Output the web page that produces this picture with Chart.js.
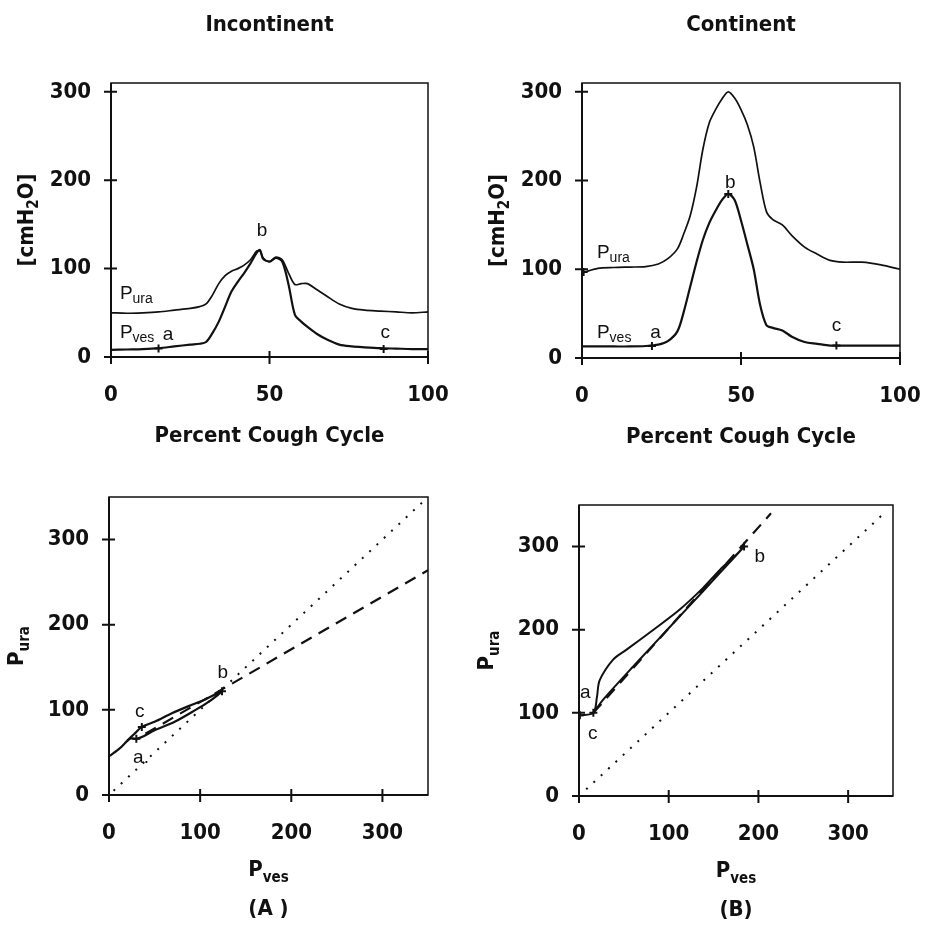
<!DOCTYPE html>
<html>
<head>
<meta charset="utf-8">
<script src="https://cdn.jsdelivr.net/npm/chart.js@4.4.1/dist/chart.umd.min.js"></script>
<style>
  html, body { margin: 0; padding: 0; background: #fff; }
  #wrap { position: relative; width: 925px; height: 929px; overflow: hidden; }
  canvas { position: absolute; }
</style>
</head>
<body>
<div id="wrap">
  <canvas id="cInc" width="462" height="460" style="left:0;top:0"></canvas>
  <canvas id="cCon" width="463" height="460" style="left:462px;top:0"></canvas>
  <canvas id="cLoopA" width="462" height="469" style="left:0;top:460px"></canvas>
  <canvas id="cLoopB" width="463" height="469" style="left:462px;top:460px"></canvas>
</div>
<script>
// --- data ---
// Incontinent: percent cough cycle vs pressure (cmH2O)
const incT    = [0,5,10,15,20,25,28,30,32,34,36,38,40,42,44,46,47,48,50,52,54,56,58,60,62,65,68,72,76,80,85,90,95,100];
const incPura = [50,49.5,50,51,53,55,57,60,70,83,92,97,100,104,110,120,120,112,108,113,110,95,82,83,83,76,69,60,55,53,52,51,50,51];
const incPves = [8,8.5,9,10,12,14,15,17,27,40,57,74,85,95,106,118,121,111,108,112,108,82,48,40,34,26,20,14,12,11,10,9.5,9,9];
const incMarkT = [15, 86];
const incMarkP = [9.5, 9];

// Continent
const conT    = [0,5,10,15,20,24,27,30,32,34,36,38,40,42,44,46,48,50,52,54,56,58,60,63,66,70,74,78,82,88,94,100];
const conPura = [96,101,102,102.5,103,106,112,123,140,160,192,235,265,280,292,300,293,280,263,238,198,165,156,150,138,125,117,110,108,108,105,100];
const conPves = [13,13,13,13,13.5,15,19,30,52,80,108,133,152,166,178,185,178,155,128,100,60,37,34,31,24,18,16,14,14,14,14,14];
const conMarkT = [22, 80, 46, 0.5];
const conMarkP = [13.5, 14, 185, 97];

// Pura vs Pves loops
const loopAves = [1,12,23,30,36,50,72,95,110,124,105,91,69,50,36,28,20];
const loopAura = [46,55,66,66,68,76,86,100,110,122,112,106,96,86,80,72,64];
const markAves = [30, 36, 124];
const markAura = [66, 80, 122];
const fitAves  = [40, 350];
const fitAura  = [72, 264];

const loopBves = [1,16,20,23,38,53,83,112,138,157,175,184,168,138,101,64,27,16];
const loopBura = [97,100,119,139,164,176,200,224,250,272,290,300,281,246,203,160,116,100];
const markBves = [184, 16, 1];
const markBura = [300, 100, 97];
const fitBves  = [16, 214];
const fitBura  = [100, 340];

const identA = [5, 345];
const identB = [8, 342];

const pctTicks   = [0, 50, 100];
const pressTicks = [0, 100, 200, 300];

// --- helpers ---
const FAM  = '"DejaVu Sans Condensed", "DejaVu Sans", sans-serif';
const BOLD = 'bold 22px ' + FAM;
const BSUB = 'bold 15px ' + FAM;
const REG  = '19px "Liberation Sans", Arial, sans-serif';
const RSUB = '14px "Liberation Sans", Arial, sans-serif';

const pts = (xs, ys) => xs.map((v, i) => ({ x: v, y: ys[i] }));

function richText (ctx, parts, x, y, center) {
  let w = 0;
  parts.forEach(p => { ctx.font = p[1]; w += ctx.measureText(p[0]).width; });
  let cx = center ? x - w / 2 : x;
  ctx.textAlign = 'left';
  ctx.textBaseline = 'alphabetic';
  parts.forEach(p => {
    ctx.font = p[1];
    ctx.fillText(p[0], cx, y + (p[2] || 0));
    cx += ctx.measureText(p[0]).width;
  });
}

const frame = {
  id: 'frame',
  afterDraw (chart, args, o) {
    const { ctx, chartArea: a, scales: { x, y } } = chart;
    ctx.save();
    ctx.strokeStyle = '#111';
    ctx.fillStyle = '#111';
    ctx.lineWidth = 1.5;
    ctx.strokeRect(a.left, a.top, a.right - a.left, a.bottom - a.top);
    ctx.lineWidth = 2;
    ctx.beginPath();
    ctx.moveTo(a.left, a.top); ctx.lineTo(a.left, a.bottom); ctx.lineTo(a.right, a.bottom);
    x.ticks.forEach(t => {
      const px = x.getPixelForValue(t.value);
      ctx.moveTo(px, a.bottom - 6); ctx.lineTo(px, a.bottom + 7);
    });
    y.ticks.forEach(t => {
      const py = y.getPixelForValue(t.value);
      ctx.moveTo(a.left - 7, py); ctx.lineTo(a.left + 6, py);
    });
    ctx.stroke();

    const cx = (a.left + a.right) / 2;
    const cy = (a.top + a.bottom) / 2;
    if (o.title) {
      ctx.font = BOLD; ctx.textAlign = 'center'; ctx.textBaseline = 'middle';
      ctx.fillText(o.title, cx, a.top - 58);
    }
    if (o.xTitle) richText(ctx, o.xTitle, cx, a.bottom + o.xTitleDy, true);
    if (o.caption) richText(ctx, [[o.caption, BOLD]], cx, a.bottom + 120, true);
    if (o.yTitle) {
      ctx.save();
      ctx.translate(a.left - o.yTitleDx, cy);
      ctx.rotate(-Math.PI / 2);
      richText(ctx, o.yTitle, 0, 0, true);
      ctx.restore();
    }
    (o.notes || []).forEach(n => {
      const parts = [[n.t, REG]];
      if (n.s) parts.push([n.s, RSUB, 4]);
      richText(ctx, parts, x.getPixelForValue(n.x), y.getPixelForValue(n.y), false);
    });
    ctx.restore();
  }
};

function axis (max, ticks, isX, size) {
  return {
    type: 'linear', min: 0, max,
    grid: { display: false, drawTicks: false },
    border: { display: false },
    ticks: { padding: isX ? 25 : 20, color: '#111', font: { family: FAM, size: 22, weight: 'bold' } },
    afterBuildTicks: s => { s.ticks = ticks.map(v => ({ value: v })); },
    afterFit: s => {
      if (isX) { s.height = size; s.paddingLeft = 0; s.paddingRight = 0; }
      else { s.width = size; s.paddingTop = 0; s.paddingBottom = 0; }
    }
  };
}

const line = (data, w, extra) => Object.assign({
  data, borderColor: '#111', borderWidth: w, pointRadius: 0, tension: 0.3, fill: false
}, extra || {});
const marks = data => ({
  data, showLine: false, pointStyle: 'cross', pointRadius: 4,
  pointBorderWidth: 2, pointBorderColor: '#111', borderColor: '#111'
});

function panel (id, cfg) {
  new Chart(document.getElementById(id), {
    type: 'line',
    data: { datasets: cfg.datasets },
    options: {
      responsive: false, animation: false, devicePixelRatio: 1,
      layout: { padding: cfg.pad },
      plugins: { legend: { display: false }, tooltip: { enabled: false }, frame: cfg.frame },
      scales: {
        x: axis(cfg.xMax, cfg.xTicks, true, 50),
        y: axis(cfg.yMax, pressTicks, false, cfg.yW)
      }
    },
    plugins: [frame]
  });
}

const cmH2O = [['[cmH', BOLD], ['2', BSUB, 5], ['O]', BOLD]];
const pct   = [['Percent Cough Cycle', BOLD]];
const pura  = [['P', BOLD], ['ura', BSUB, 6]];
const pves  = [['P', BOLD], ['ves', BSUB, 6]];

// 1. Incontinent, time course
panel('cInc', {
  pad: { left: 0, top: 83, right: 34, bottom: 53 }, yW: 111,
  xMax: 100, xTicks: pctTicks, yMax: 310,
  datasets: [
    line(pts(incT, incPura), 1.7),
    line(pts(incT, incPves), 2.2),
    marks(pts(incMarkT, incMarkP))
  ],
  frame: {
    title: 'Incontinent', xTitle: pct, xTitleDy: 85, yTitle: cmH2O, yTitleDx: 78,
    notes: [
      { t: 'P', s: 'ura', x: 2.8, y: 66 }, { t: 'P', s: 'ves', x: 2.8, y: 21 },
      { t: 'a', x: 16.3, y: 19 }, { t: 'b', x: 46, y: 137 }, { t: 'c', x: 85, y: 21 }
    ]
  }
});

// 2. Continent, time course
panel('cCon', {
  pad: { left: 0, top: 83, right: 25, bottom: 52 }, yW: 120,
  xMax: 100, xTicks: pctTicks, yMax: 310,
  datasets: [
    line(pts(conT, conPura), 1.7),
    line(pts(conT, conPves), 2.2),
    marks(pts(conMarkT, conMarkP))
  ],
  frame: {
    title: 'Continent', xTitle: pct, xTitleDy: 85, yTitle: cmH2O, yTitleDx: 78,
    notes: [
      { t: 'P', s: 'ura', x: 4.7, y: 113 }, { t: 'P', s: 'ves', x: 4.7, y: 22 },
      { t: 'a', x: 21.5, y: 23 }, { t: 'b', x: 45, y: 192 }, { t: 'c', x: 78.5, y: 31 }
    ]
  }
});

// 3. Incontinent, Pura vs Pves
panel('cLoopA', {
  pad: { left: 0, top: 37, right: 34, bottom: 84 }, yW: 109,
  xMax: 350, xTicks: pressTicks, yMax: 350,
  datasets: [
    line(pts(identA, identA), 2, { borderDash: [2, 8], tension: 0 }),
    line(pts(fitAves, fitAura), 2.2, { borderDash: [12, 8], tension: 0 }),
    line(pts(loopAves, loopAura), 2.2),
    marks(pts(markAves, markAura))
  ],
  frame: {
    xTitle: pves, xTitleDy: 81, yTitle: pura, yTitleDx: 86, caption: '(A )',
    notes: [{ t: 'b', x: 119, y: 138 }, { t: 'c', x: 28.6, y: 91.5 }, { t: 'a.', x: 26.4, y: 37.5 }]
  }
});

// 4. Continent, Pura vs Pves
panel('cLoopB', {
  pad: { left: 0, top: 45, right: 32, bottom: 83 }, yW: 117,
  xMax: 350, xTicks: pressTicks, yMax: 350,
  datasets: [
    line(pts(identB, identB), 2, { borderDash: [2, 8], tension: 0 }),
    line(pts(fitBves, fitBura), 2.2, { borderDash: [12, 8], tension: 0 }),
    line(pts(loopBves, loopBura), 2),
    marks(pts(markBves, markBura))
  ],
  frame: {
    xTitle: pves, xTitleDy: 81, yTitle: pura, yTitleDx: 86, caption: '(B)',
    notes: [{ t: 'b', x: 195.5, y: 281 }, { t: 'a', x: 1, y: 118 }, { t: 'c', x: 10, y: 69 }]
  }
});
</script>
</body>
</html>
